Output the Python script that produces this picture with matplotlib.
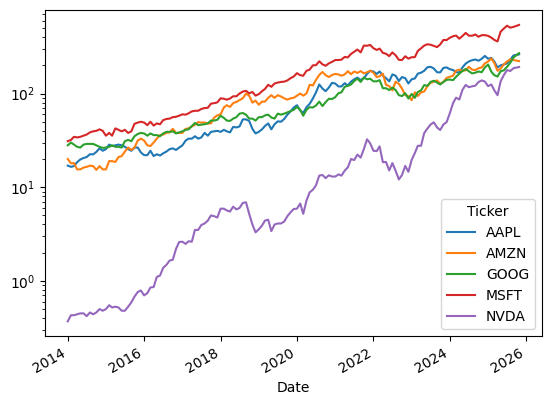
import numpy as np
import pandas as pd
import matplotlib
matplotlib.use('Agg')
import matplotlib.pyplot as plt

#  Monthly closing levels (Jan 2014 .. Oct 2025)
dates = pd.date_range('2014-01-01', periods=141, freq='MS').append(pd.DatetimeIndex(['2025-10-24']))

aapl = [17.0, 16.5, 16.8, 18.5, 19.8, 20.5, 21.0, 22.5, 22.4, 23.8, 26.0, 24.5,
        25.5, 28.5, 27.5, 28.0, 28.5, 28.0, 27.0, 25.5, 24.5, 26.5, 26.5, 23.5,
        22.0, 22.0, 24.5, 21.5, 22.5, 21.8, 23.0, 24.0, 25.5, 26.0, 25.0, 26.5,
        28.0, 31.5, 33.0, 33.0, 35.0, 33.0, 34.0, 38.0, 35.5, 39.0, 39.5, 40.0,
        39.0, 41.0, 39.5, 38.5, 44.0, 43.5, 44.5, 53.0, 53.0, 51.0, 42.0, 37.5,
        39.0, 41.5, 45.0, 48.0, 41.5, 47.0, 50.5, 50.0, 53.5, 59.5, 64.5, 71.0,
        75.0, 66.0, 62.0, 71.5, 77.5, 88.5, 103.0, 125.0, 113.0, 106.0, 116.0, 130.0,
        128.0, 119.0, 119.0, 129.0, 122.0, 134.0, 142.0, 148.0, 139.0, 146.0, 162.0, 175.0,
        172.0, 162.0, 172.0, 155.0, 146.0, 135.0, 160.0, 155.0, 136.0, 150.0, 146.0, 128.0,
        142.0, 145.0, 163.0, 167.0, 175.0, 191.0, 193.0, 185.0, 169.0, 168.0, 188.0, 190.0,
        182.0, 178.0, 169.0, 168.0, 190.0, 209.0, 220.0, 227.0, 231.0, 224.0, 235.0, 252.0,
        235.0, 240.0, 220.0, 190.0, 200.0, 205.0, 210.0, 230.0, 255.0, 262.0]

amzn = [20.0, 18.0, 18.1, 15.5, 15.5, 16.2, 16.5, 17.0, 16.8, 15.3, 16.8, 15.5,
        15.5, 19.0, 19.0, 18.6, 21.0, 21.5, 24.0, 26.5, 25.0, 26.5, 31.5, 33.0,
        31.5, 28.0, 27.5, 30.0, 33.0, 36.0, 36.5, 38.0, 38.5, 42.0, 38.0, 38.0,
        38.0, 42.0, 42.5, 44.5, 46.5, 49.5, 49.0, 49.0, 48.0, 48.0, 55.5, 58.5,
        60.0, 71.0, 75.0, 72.0, 79.0, 81.5, 85.0, 89.0, 100.0, 95.0, 80.0, 84.0,
        76.0, 82.0, 82.0, 90.0, 96.0, 90.0, 96.0, 93.0, 89.0, 86.0, 89.0, 90.0,
        95.0, 100.0, 95.0, 100.0, 124.0, 122.0, 140.0, 158.0, 170.0, 157.0, 150.0, 158.0,
        162.0, 160.0, 155.0, 160.0, 173.0, 161.0, 172.0, 166.0, 174.0, 164.0, 169.0, 175.0,
        167.0, 150.0, 153.0, 163.0, 124.0, 120.0, 108.0, 134.0, 127.0, 113.0, 96.0, 94.0,
        85.0, 103.0, 94.0, 103.0, 105.0, 120.0, 130.0, 134.0, 138.0, 127.0, 133.0, 147.0,
        151.0, 155.0, 176.0, 180.0, 175.0, 177.0, 193.0, 180.0, 178.0, 186.0, 190.0, 210.0,
        220.0, 237.0, 212.0, 175.0, 185.0, 205.0, 220.0, 232.0, 228.0, 222.0]

goog = [28.0, 30.0, 28.5, 27.0, 26.5, 28.5, 29.0, 29.0, 29.0, 28.0, 27.0, 26.3,
        26.5, 27.0, 28.0, 27.0, 27.0, 26.5, 31.0, 32.0, 31.0, 35.0, 37.0, 38.0,
        37.5, 35.5, 37.5, 36.0, 36.0, 35.0, 37.5, 39.0, 39.0, 39.5, 37.5, 38.5,
        39.5, 41.0, 41.5, 45.0, 48.5, 46.0, 46.5, 47.0, 48.0, 51.5, 51.5, 52.5,
        58.0, 55.0, 51.5, 51.0, 54.0, 56.0, 61.0, 62.0, 59.5, 54.0, 54.0, 51.5,
        56.0, 56.0, 58.5, 59.5, 55.5, 54.0, 61.0, 59.5, 61.0, 63.0, 65.0, 67.0,
        72.0, 67.0, 58.0, 67.0, 71.5, 71.0, 74.5, 82.0, 73.5, 81.0, 88.0, 87.5,
        91.5, 101.0, 103.0, 118.0, 121.0, 125.0, 136.0, 144.0, 133.0, 148.0, 142.0, 144.0,
        135.0, 135.0, 139.0, 114.0, 114.0, 109.0, 116.0, 109.0, 96.0, 94.0, 101.0, 88.5,
        99.0, 90.0, 104.0, 108.0, 123.0, 121.0, 133.0, 137.0, 131.0, 125.0, 133.0, 140.0,
        141.0, 139.0, 151.0, 163.0, 174.0, 183.0, 173.0, 164.0, 167.0, 172.0, 169.0, 190.0,
        204.0, 171.0, 157.0, 152.0, 173.0, 177.0, 193.0, 213.0, 243.0, 270.0]

msft = [31.0, 32.0, 34.5, 34.0, 34.5, 35.5, 36.5, 38.5, 39.5, 40.0, 41.5, 40.0,
        35.5, 38.0, 35.5, 42.5, 41.0, 39.5, 41.0, 38.0, 39.5, 47.5, 49.0, 50.0,
        49.0, 46.0, 50.0, 45.5, 48.0, 47.0, 52.0, 53.5, 54.0, 56.0, 56.5, 58.0,
        60.0, 59.5, 61.5, 64.5, 65.5, 65.5, 68.5, 70.0, 70.5, 78.0, 79.0, 80.5,
        89.0, 88.0, 86.0, 88.5, 93.5, 93.5, 100.0, 105.0, 107.0, 100.5, 104.0, 95.0,
        98.5, 106.0, 112.0, 124.0, 118.0, 128.0, 131.0, 133.0, 134.0, 138.0, 146.0, 152.0,
        165.0, 157.0, 155.0, 175.0, 180.0, 200.0, 201.0, 221.0, 205.0, 198.0, 210.0, 218.0,
        228.0, 228.0, 230.0, 246.0, 243.0, 265.0, 279.0, 295.0, 275.0, 325.0, 324.0, 330.0,
        305.0, 292.0, 302.0, 272.0, 266.0, 251.0, 275.0, 256.0, 229.0, 228.0, 250.0, 236.0,
        244.0, 245.0, 285.0, 304.0, 325.0, 336.0, 332.0, 323.0, 313.0, 334.0, 374.0, 372.0,
        394.0, 409.0, 416.0, 385.0, 411.0, 444.0, 415.0, 414.0, 427.0, 404.0, 420.0, 420.0,
        413.0, 395.0, 374.0, 360.0, 458.0, 495.0, 530.0, 505.0, 515.0, 540.0]

nvda = [0.37, 0.43, 0.43, 0.44, 0.45, 0.45, 0.42, 0.46, 0.44, 0.46, 0.50, 0.48,
        0.50, 0.55, 0.52, 0.53, 0.52, 0.48, 0.48, 0.53, 0.59, 0.68, 0.76, 0.79,
        0.70, 0.74, 0.85, 0.86, 1.10, 1.14, 1.38, 1.48, 1.65, 1.68, 2.20, 2.60,
        2.62, 2.48, 2.65, 2.62, 3.50, 3.50, 3.95, 4.10, 4.40, 5.00, 4.90, 4.75,
        5.90, 5.90, 5.65, 5.50, 6.20, 5.80, 6.00, 6.80, 6.90, 5.20, 4.00, 3.30,
        3.55, 3.90, 4.40, 4.50, 3.40, 4.00, 4.10, 4.10, 4.30, 4.90, 5.40, 5.85,
        5.90, 6.70, 5.20, 7.20, 8.80, 9.40, 10.50, 13.30, 13.50, 12.50, 13.40, 13.00,
        13.00, 13.70, 13.30, 15.00, 16.30, 20.00, 19.50, 22.30, 20.70, 25.50, 32.50, 29.40,
        24.50, 24.30, 27.30, 18.50, 18.60, 15.10, 18.10, 15.00, 12.10, 13.50, 16.90, 14.60,
        19.50, 23.20, 27.70, 27.70, 37.80, 42.30, 46.70, 49.30, 43.50, 40.80, 46.70, 49.50,
        61.50, 79.10, 90.40, 86.40, 109.60, 123.50, 117.00, 119.40, 121.40, 132.70, 138.20, 134.30,
        120.00, 124.90, 108.40, 96.00, 135.10, 158.00, 177.90, 174.20, 186.60, 192.00]

tickers = ['AAPL', 'AMZN', 'GOOG', 'MSFT', 'NVDA']
prices = pd.DataFrame({'AAPL': aapl, 'AMZN': amzn, 'GOOG': goog,
                       'MSFT': msft, 'NVDA': nvda}, index=dates)

#  Visualising the closing prices on a log scale
fig, ax = plt.subplots(figsize=(5.51, 4.05), dpi=100)
for t in tickers:
    ax.plot(prices.index, prices[t], label=t)
ax.set_yscale('log')
ax.set_xlabel('Date')
ax.legend(title='Ticker', loc='lower right')
for lbl in ax.get_xticklabels():
    lbl.set_rotation(30)
    lbl.set_horizontalalignment('right')
fig.subplots_adjust(left=0.082, right=0.983, top=0.975, bottom=0.170)
fig.savefig('out.png', dpi=100)
